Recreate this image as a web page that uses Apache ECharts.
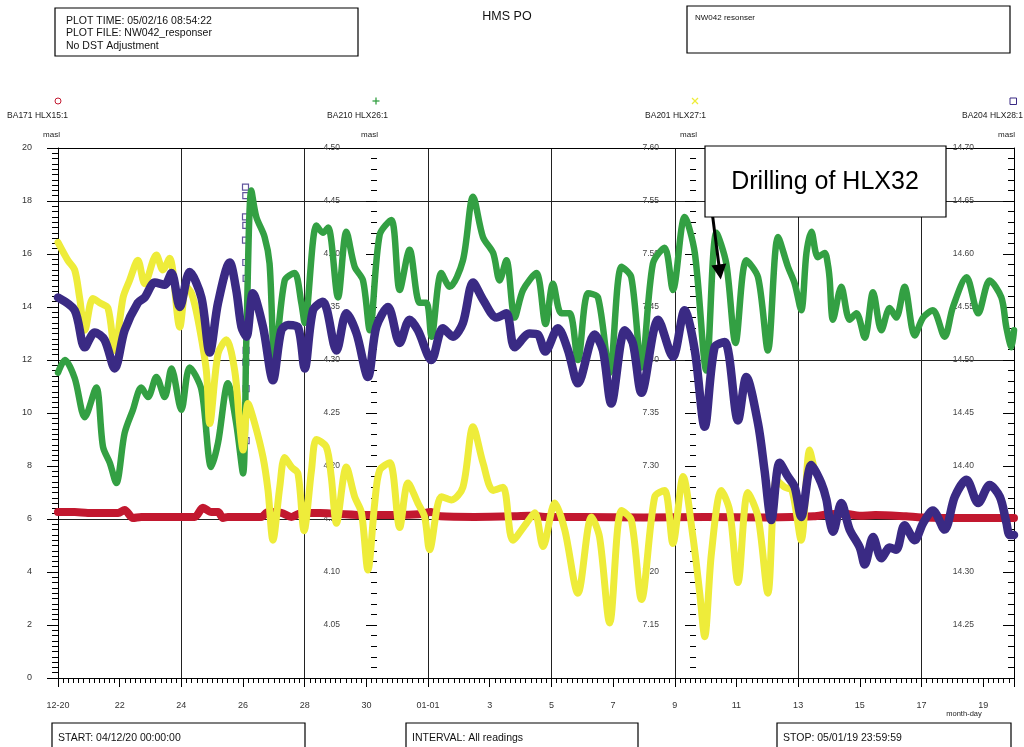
<!DOCTYPE html>
<html><head><meta charset="utf-8">
<script src="https://cdn.jsdelivr.net/npm/echarts@6/dist/echarts.min.js"></script>
<style>html,body{margin:0;padding:0;background:#fff}#c{width:1024px;height:747px}</style>
</head><body><div id="c"></div>
<script>
// x = days since 2004-12-20 00:00
const dayLabels = ['12-20','22','24','26','28','30','01-01','3','5','7','9','11','13','15','17','19'];
const seriesNames = ['BA171 HLX15:1','BA210 HLX26:1','BA201 HLX27:1','BA204 HLX28:1'];

const red = [[0,6.26],[0.54,6.26],[0.97,6.23],[1.95,6.23],[2.16,6.34],[2.43,6.04],[2.70,6.08],[4.43,6.08],[4.70,6.42],[4.97,6.26],[5.19,6.26],[5.35,6.04],[5.51,6.08],[6.59,6.08],[6.81,6.26],[7.24,6.23],[7.57,6.08],[7.89,6.23],[8.5,6.23],[9.0,6.20],[10.0,6.15],[11.0,6.15],[11.7,6.18],[12.1,6.26],[12.4,6.10],[13.5,6.08],[14.8,6.10],[15.3,6.12],[15.8,6.08],[17,6.08],[19,6.06],[21,6.08],[23,6.06],[24.5,6.10],[25.0,6.18],[25.5,6.20],[26.0,6.12],[26.5,6.15],[27.5,6.10],[28,6.06],[29.5,6.04],[31,6.04]];

const green = [[0,4.288],[0.22,4.300],[0.54,4.283],[0.87,4.246],[1.24,4.274],[1.46,4.218],[1.68,4.203],[1.89,4.184],[2.16,4.231],[2.43,4.253],[2.70,4.274],[2.92,4.265],[3.19,4.284],[3.46,4.265],[3.68,4.292],[4.0,4.253],[4.27,4.293],[4.65,4.272],[4.97,4.199],[5.19,4.222],[5.51,4.278],[5.78,4.240],[6.0,4.193],[6.11,4.322],[6.27,4.460],[6.43,4.435],[6.70,4.416],[6.86,4.391],[7.03,4.300],[7.35,4.375],[7.67,4.382],[7.89,4.354],[8.0,4.335],[8.38,4.427],[8.59,4.420],[8.76,4.425],[9.08,4.359],[9.35,4.421],[9.62,4.388],[9.89,4.375],[10.11,4.328],[10.43,4.418],[10.81,4.432],[11.08,4.366],[11.40,4.404],[11.73,4.354],[11.95,4.354],[12.11,4.322],[12.43,4.382],[12.70,4.369],[13.13,4.394],[13.46,4.454],[13.78,4.416],[14.11,4.401],[14.32,4.375],[14.54,4.394],[14.81,4.340],[15.08,4.366],[15.51,4.382],[15.81,4.334],[16.05,4.372],[16.32,4.344],[16.59,4.344],[16.86,4.300],[17.19,4.363],[17.51,4.359],[17.89,4.288],[18.27,4.388],[18.59,4.378],[18.92,4.293],[19.29,4.391],[19.67,4.406],[19.94,4.366],[20.32,4.435],[20.65,4.401],[21.02,4.290],[21.35,4.420],[21.67,4.391],[21.97,4.316],[22.32,4.394],[22.70,4.378],[23.02,4.309],[23.35,4.416],[23.67,4.388],[23.89,4.372],[24.10,4.347],[24.27,4.401],[24.43,4.421],[24.64,4.397],[24.86,4.401],[24.97,4.389],[25.02,4.377],[25.13,4.338],[25.40,4.369],[25.67,4.338],[25.89,4.344],[26.16,4.321],[26.43,4.364],[26.70,4.328],[26.97,4.349],[27.18,4.340],[27.45,4.369],[27.78,4.323],[28.05,4.340],[28.37,4.347],[28.75,4.322],[29.02,4.350],[29.46,4.378],[29.84,4.344],[30.21,4.375],[30.59,4.359],[30.75,4.331],[30.92,4.312],[31.0,4.328]];

const yellow = [[0,7.511],[0.32,7.494],[0.54,7.485],[0.70,7.459],[0.87,7.428],[1.13,7.458],[1.35,7.454],[1.62,7.449],[1.84,7.409],[2.11,7.459],[2.32,7.475],[2.59,7.494],[2.81,7.472],[3.19,7.499],[3.40,7.485],[3.62,7.496],[3.95,7.431],[4.16,7.469],[4.33,7.463],[4.54,7.438],[4.81,7.390],[4.92,7.340],[5.19,7.406],[5.46,7.419],[5.73,7.390],[5.89,7.340],[6.0,7.315],[6.16,7.359],[6.38,7.340],[6.65,7.308],[6.81,7.277],[6.97,7.230],[7.19,7.280],[7.35,7.308],[7.57,7.299],[7.78,7.293],[7.98,7.239],[8.22,7.296],[8.38,7.325],[8.70,7.318],[8.86,7.290],[9.03,7.246],[9.35,7.299],[9.62,7.271],[9.84,7.256],[10.05,7.202],[10.27,7.265],[10.43,7.296],[10.76,7.303],[11.08,7.242],[11.35,7.284],[11.67,7.265],[11.89,7.252],[12.05,7.221],[12.43,7.271],[12.76,7.268],[13.13,7.280],[13.46,7.337],[13.78,7.303],[14.11,7.277],[14.43,7.280],[14.75,7.230],[15.19,7.246],[15.46,7.256],[15.73,7.224],[16.11,7.265],[16.43,7.240],[16.86,7.180],[17.30,7.252],[17.56,7.233],[17.89,7.152],[18.27,7.258],[18.59,7.249],[18.92,7.174],[19.35,7.271],[19.67,7.277],[19.94,7.227],[20.27,7.290],[20.59,7.233],[20.81,7.180],[20.97,7.139],[21.19,7.218],[21.51,7.277],[21.78,7.258],[22.05,7.190],[22.37,7.275],[22.70,7.252],[23.02,7.180],[23.29,7.287],[23.56,7.280],[23.80,7.277],[24.10,7.230],[24.37,7.315],[24.53,7.296]];

const purple = [[0,14.559],[0.54,14.547],[0.87,14.512],[1.19,14.526],[1.51,14.519],[1.84,14.492],[2.16,14.528],[2.59,14.554],[2.81,14.559],[3.14,14.573],[3.46,14.571],[3.68,14.582],[3.95,14.550],[4.27,14.583],[4.65,14.559],[4.92,14.507],[5.19,14.554],[5.57,14.592],[5.78,14.566],[5.95,14.531],[6.11,14.522],[6.32,14.563],[6.65,14.531],[6.97,14.481],[7.24,14.528],[7.46,14.533],[7.78,14.531],[8.0,14.492],[8.27,14.547],[8.59,14.555],[9.03,14.509],[9.35,14.544],[9.68,14.525],[10.05,14.484],[10.32,14.531],[10.70,14.550],[11.08,14.516],[11.40,14.538],[11.67,14.528],[12.11,14.500],[12.48,14.530],[12.81,14.522],[13.13,14.535],[13.46,14.573],[13.78,14.557],[14.22,14.540],[14.54,14.544],[14.81,14.512],[15.29,14.525],[15.56,14.524],[15.80,14.508],[16.21,14.530],[16.54,14.509],[16.86,14.478],[17.40,14.524],[17.67,14.509],[17.94,14.459],[18.38,14.528],[18.64,14.516],[18.92,14.469],[19.46,14.538],[19.94,14.503],[20.32,14.547],[20.65,14.509],[20.97,14.437],[21.29,14.512],[21.62,14.517],[22.05,14.443],[22.32,14.484],[22.70,14.440],[22.91,14.396],[23.13,14.349],[23.40,14.403],[23.67,14.390],[23.89,14.380],[24.10,14.352],[24.43,14.401],[24.75,14.384],[24.92,14.368],[25.02,14.349],[25.13,14.338],[25.40,14.365],[25.67,14.340],[26.0,14.323],[26.16,14.307],[26.43,14.333],[26.70,14.313],[26.97,14.323],[27.18,14.321],[27.45,14.344],[27.78,14.330],[28.05,14.346],[28.37,14.358],[28.75,14.340],[29.08,14.371],[29.46,14.387],[29.84,14.365],[30.21,14.382],[30.54,14.371],[30.75,14.347],[30.86,14.335],[31.0,14.335]];

const purpleSpike = [[6.08,14.663],[6.09,14.655],[6.08,14.635],[6.09,14.627],[6.08,14.613],[6.09,14.592],[6.10,14.577],[6.10,14.509],[6.09,14.498],[6.10,14.473],[6.09,14.457],[6.10,14.424]];

// annotation arrow endpoints (day, BA210 value)
const arrowFrom = [21.23, 4.435];
const arrowTo = [21.46, 4.383];

const C = {red:'#c2182f', green:'#33a043', yellow:'#eeec3a', purple:'#3a2a84'};
const FF = 'Liberation Sans, Arial, sans-serif';

function yAx(min, max, pos, offset, labelMargin, extra) {
  return Object.assign({
    type:'value', min:min, max:max, interval:0.05, position:pos, offset:offset,
    axisLine:{show:false, onZero:false},
    axisTick:{show:true, length:11, lineStyle:{color:'#000', width:1}},
    minorTick:{show:true, splitNumber:5, length:6, lineStyle:{color:'#000', width:1}},
    splitLine:{show:false},
    axisLabel:{fontSize:8.5, color:'#444', margin:labelMargin, fontFamily:FF, showMinLabel:false,
      formatter:v => (Math.abs(v - min) < 1e-6 ? '' : v.toFixed(2))}
  }, extra || {});
}

const chart = echarts.init(document.getElementById('c'), null, {renderer:'canvas'});
const txt = (x, y, s, size, align, color, extra) => Object.assign({type:'text', x:x, y:y, z:100,
  style:{text:s, fontSize:size, fontFamily:FF, fill:color||'#111', align:align||'left', verticalAlign:'middle'}}, extra||{});
const rect = (x, y, w, h, fill) => ({type:'rect', z:100, shape:{x:x, y:y, width:w, height:h},
  style:{fill:fill||'none', stroke:'#000', lineWidth:1.2}});

const option = {
  animation:false,
  textStyle:{fontFamily:FF},
  grid:{left:58, right:10, top:148, bottom:69, containLabel:false, outerBoundsMode:'none'},
  xAxis:[
    {type:'value', min:0, max:31, interval:2, position:'bottom',
     axisLine:{show:true, onZero:false, lineStyle:{color:'#000', width:1}},
     axisTick:{show:true, length:9, lineStyle:{color:'#000'}},
     minorTick:{show:true, splitNumber:12, length:5, lineStyle:{color:'#000'}},
     splitLine:{show:false},
     axisLabel:{fontSize:9, color:'#333', margin:23, fontFamily:FF,
       formatter:v => { const i = Math.round(v/2); return (Math.abs(v - i*2) < 1e-6 && dayLabels[i] !== undefined) ? dayLabels[i] : ''; }}},
    {type:'value', min:0, max:31, interval:4, position:'top',
     axisLine:{show:true, onZero:false, lineStyle:{color:'#000', width:1}},
     axisTick:{show:false}, axisLabel:{show:false},
     splitLine:{show:true, lineStyle:{color:'#222', width:1}}}
  ],
  yAxis:[
    {type:'value', min:0, max:20, interval:2, position:'left',
     axisLine:{show:true, onZero:false, lineStyle:{color:'#000', width:1}},
     axisTick:{show:true, length:11, lineStyle:{color:'#000'}},
     minorTick:{show:true, splitNumber:10, length:6, lineStyle:{color:'#000'}},
     splitLine:{show:false},
     axisLabel:{fontSize:9, color:'#333', margin:26, fontFamily:FF}},
    yAx(4.0, 4.5, 'left', -319, 37),
    yAx(7.1, 7.6, 'left', -638, 37),
    yAx(14.2, 14.7, 'right', 0, 40, {
      axisLine:{show:true, onZero:false, lineStyle:{color:'#000', width:1}},
      axisTick:{show:true, inside:true, length:11, lineStyle:{color:'#000'}},
      minorTick:{show:true, splitNumber:5, length:6, lineStyle:{color:'#000'}},
      axisLabel:{inside:true, fontSize:8.5, color:'#444', margin:40, fontFamily:FF, showMinLabel:false,
        formatter:v => (Math.abs(v - 14.2) < 1e-6 ? '' : v.toFixed(2))}}),
    {type:'value', min:0, max:20, interval:6, position:'left',
     axisLine:{show:false}, axisTick:{show:false}, axisLabel:{show:false},
     splitLine:{show:true, lineStyle:{color:'#222', width:1}}}
  ],
  series:[
    {type:'line', name:seriesNames[0], xAxisIndex:0, yAxisIndex:0, data:red, smooth:0.3, showSymbol:false,
     lineStyle:{color:C.red, width:8, cap:'round', join:'round'}, itemStyle:{color:C.red}},
    {type:'line', name:seriesNames[1], xAxisIndex:0, yAxisIndex:1, data:green, smooth:0.3, showSymbol:false,
     lineStyle:{color:C.green, width:6.5, cap:'round', join:'round'}, itemStyle:{color:C.green}},
    {type:'line', name:seriesNames[2], xAxisIndex:0, yAxisIndex:2, data:yellow, smooth:0.3, showSymbol:false,
     lineStyle:{color:C.yellow, width:7, cap:'round', join:'round'}, itemStyle:{color:C.yellow}},
    {type:'line', name:seriesNames[3], xAxisIndex:0, yAxisIndex:3, data:purple, smooth:0.3, showSymbol:false,
     lineStyle:{color:C.purple, width:8.5, cap:'round', join:'round'}, itemStyle:{color:C.purple},
     markLine:{silent:true, animation:false, symbol:['none','triangle'], symbolSize:15, z:50,
       label:{show:false}, lineStyle:{color:'#000', width:3, type:'solid'}, itemStyle:{color:'#000'},
       data:[[{coord:[arrowFrom[0], 14.2 + (arrowFrom[1]-4.0)]}, {coord:[arrowTo[0], 14.2 + (arrowTo[1]-4.0)]}]]}},
    {type:'scatter', name:seriesNames[3] + ' spike', xAxisIndex:0, yAxisIndex:3, data:purpleSpike,
     symbol:'rect', symbolSize:6, itemStyle:{color:'#fff', borderColor:C.purple, borderWidth:1.2}}
  ],
  graphic:[
    rect(55, 8, 303, 48),
    txt(66, 21, 'PLOT TIME: 05/02/16 08:54:22', 10.5),
    txt(66, 33.5, 'PLOT FILE: NW042_responser', 10.5),
    txt(66, 46, 'No DST Adjustment', 10.5),
    txt(507, 17, 'HMS PO', 12.5, 'center'),
    rect(687, 6, 323, 47),
    txt(695, 18, 'NW042 resonser', 8),
    // legend markers
    {type:'circle', z:100, shape:{cx:58, cy:101, r:3}, style:{fill:'none', stroke:C.red, lineWidth:1}},
    {type:'line', z:100, shape:{x1:372.5, y1:101, x2:379.5, y2:101}, style:{stroke:C.green, lineWidth:1.3}},
    {type:'line', z:100, shape:{x1:376, y1:97.5, x2:376, y2:104.5}, style:{stroke:C.green, lineWidth:1.3}},
    {type:'line', z:100, shape:{x1:692, y1:98, x2:698, y2:104}, style:{stroke:C.yellow, lineWidth:1.3}},
    {type:'line', z:100, shape:{x1:698, y1:98, x2:692, y2:104}, style:{stroke:C.yellow, lineWidth:1.3}},
    {type:'rect', z:100, shape:{x:1010, y:98, width:6.5, height:6.5}, style:{fill:'none', stroke:C.purple, lineWidth:1}},
    txt(68, 116, seriesNames[0], 8.5, 'right', '#222'),
    txt(388, 116, seriesNames[1], 8.5, 'right', '#222'),
    txt(706, 116, seriesNames[2], 8.5, 'right', '#222'),
    txt(962, 116, seriesNames[3], 8.5, 'left', '#222'),
    txt(60, 135, 'masl', 8, 'right', '#222'),
    txt(378, 135, 'masl', 8, 'right', '#222'),
    txt(697, 135, 'masl', 8, 'right', '#222'),
    txt(1015, 135, 'masl', 8, 'right', '#222'),
    txt(964, 714, 'month-day', 7.5, 'center', '#222'),
    // annotation
    rect(705, 146, 241, 71, '#fff'),
    txt(825, 182, 'Drilling of HLX32', 25, 'center', '#000'),
    // bottom boxes
    rect(52, 723, 253, 40),
    txt(58, 738, 'START: 04/12/20 00:00:00', 10.5),
    rect(406, 723, 232, 40),
    txt(412, 738, 'INTERVAL: All readings', 10.5),
    rect(777, 723, 234, 40),
    txt(783, 738, 'STOP: 05/01/19 23:59:59', 10.5)
  ]
};
chart.setOption(option);
</script>
</body></html>
